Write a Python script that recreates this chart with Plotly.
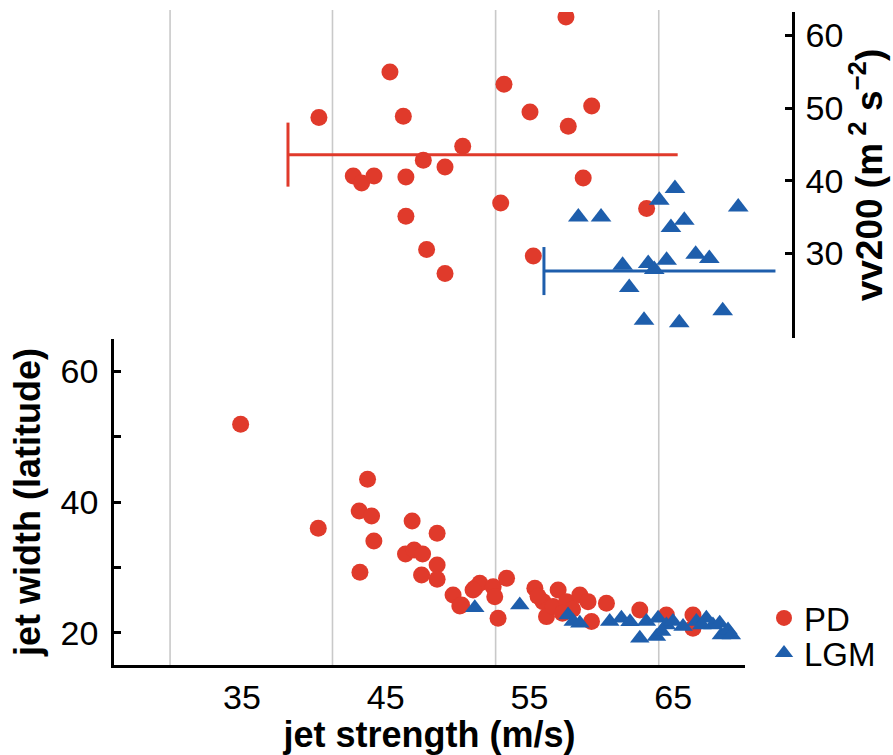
import plotly.graph_objects as go

# ---- data -------------------------------------------------------------
# upper panel: jet strength (m/s) vs vv200 (m^2 s^-2)
pd_top_strength = [57.53, 45.29, 40.35, 46.22, 53.22, 55.03, 59.32, 57.69, 50.35, 47.61, 49.12,
                   42.74, 43.32, 44.18, 46.40, 58.73, 52.99, 46.40, 63.14, 47.84, 55.26, 49.12]
pd_top_vv200 = [62.51, 54.96, 48.70, 48.87, 53.27, 49.46, 50.29, 47.50, 44.75, 42.83, 41.91,
                40.67, 39.71, 40.67, 40.54, 40.40, 36.96, 35.14, 36.19, 30.56, 29.68, 27.27]

lgm_top_strength = [65.11, 64.02, 69.51, 58.39, 59.97, 65.76, 64.83, 66.55, 67.50, 64.53, 63.25,
                    61.47, 63.67, 61.93, 68.43, 62.96, 65.41]
lgm_top_vv200 = [38.94, 37.34, 36.41, 35.04, 35.04, 34.59, 33.59, 29.92, 29.33, 29.09, 28.64,
                 28.41, 27.82, 25.34, 22.13, 20.85, 20.48]

# spread bars: mean vv200, strength interval and cap half-height
spread_labels = ["PD", "LGM"]
spread_mean_vv200 = [43.6, 27.6]
spread_strength_lo = [38.2, 56.0]
spread_strength_hi = [65.3, 72.1]
spread_cap_half = [4.4, 3.3]

# lower panel: jet strength (m/s) vs jet width (latitude)
pd_strength = [34.91, 40.31, 43.74, 43.16, 44.02, 44.18, 43.21, 46.84, 48.58, 46.38, 46.98,
               47.57, 48.58, 47.50, 48.58, 49.69, 50.16, 50.28, 51.20, 51.55, 51.08, 52.48,
               52.59, 53.41, 52.82, 55.38, 55.95, 56.19, 57.00, 56.65, 57.58, 58.51, 59.08,
               59.32, 60.36, 62.68, 64.53, 66.38, 66.38, 55.60, 58.00, 57.30]
pd_width = [51.86, 35.98, 43.47, 38.63, 37.86, 34.05, 29.27, 37.10, 35.22, 32.06, 32.67,
            32.06, 30.38, 28.85, 28.20, 25.80, 24.12, 24.27, 26.82, 27.59, 26.56, 27.07,
            25.54, 28.35, 22.24, 26.82, 24.78, 22.49, 26.56, 24.02, 24.78, 25.80, 24.78,
            21.73, 24.53, 23.51, 22.75, 22.75, 20.72, 25.60, 23.60, 23.00]

lgm_strength = [51.20, 54.33, 57.69, 58.05, 58.51, 60.59, 61.40, 62.68, 63.14, 63.95, 63.84,
                64.53, 64.99, 65.69, 66.62, 67.31, 67.77, 68.24, 68.36, 68.82, 69.05, 62.00,
                64.20, 67.00]
lgm_width = [23.86, 24.27, 22.75, 21.73, 21.48, 21.73, 22.24, 19.19, 21.73, 22.24, 19.44,
             21.22, 21.73, 20.97, 21.73, 22.24, 21.22, 21.48, 19.69, 20.46, 19.69, 21.70,
             20.20, 21.20]

strength_ticks = [35, 45, 55, 65]
width_ticks = [20, 30, 40, 50, 60]
width_ticktext = ["20", "", "40", "", "60"]
vv200_ticks = [30, 40, 50, 60]
grid_strength = [30, 41.3, 52.65, 64.0]

# ---- style ------------------------------------------------------------
W, H = 893, 755
RED = "#E03A2B"
BLUE = "#1E5EAC"
FONT = "Liberation Sans, Arial, Helvetica, sans-serif"
TICK_SIZE = 34
TITLE_SIZE = 36
LEGEND_SIZE = 33


def fx(p):
    return p / W


def fy(p):
    return 1 - p / H


fig = go.Figure()

# lower panel
fig.add_trace(go.Scatter(x=pd_strength, y=pd_width, mode="markers", name="PD", legend="legend",
                         marker=dict(symbol="circle", size=17, color=RED, line=dict(width=0)),
                         xaxis="x", yaxis="y"))
fig.add_trace(go.Scatter(x=lgm_strength, y=lgm_width, mode="markers", name="LGM", legend="legend2",
                         marker=dict(symbol="triangle-up", size=17, color=BLUE, line=dict(width=0)),
                         xaxis="x", yaxis="y"))

# upper panel
fig.add_trace(go.Scatter(x=pd_top_strength, y=pd_top_vv200, mode="markers", showlegend=False,
                         marker=dict(symbol="circle", size=17, color=RED, line=dict(width=0)),
                         xaxis="x2", yaxis="y2"))
fig.add_trace(go.Scatter(x=lgm_top_strength, y=lgm_top_vv200, mode="markers", showlegend=False,
                         marker=dict(symbol="triangle-up", size=18, color=BLUE, line=dict(width=0)),
                         xaxis="x2", yaxis="y2"))

for i, col in enumerate([RED, BLUE]):
    m, lo, hi, d = spread_mean_vv200[i], spread_strength_lo[i], spread_strength_hi[i], spread_cap_half[i]
    fig.add_trace(go.Scatter(x=[lo, hi, None, lo, lo], y=[m, m, None, m - d, m + d],
                             mode="lines", showlegend=False, hoverinfo="skip",
                             line=dict(color=col, width=3),
                             xaxis="x2", yaxis="y2", name=spread_labels[i]))

# vertical guide lines through both panels
for g in grid_strength:
    fig.add_shape(type="line", xref="x", yref="paper", x0=g, x1=g,
                  y0=fy(665), y1=fy(10), layer="below",
                  line=dict(color="#c9c9c9", width=1.6))

axis_common = dict(showgrid=False, zeroline=False, automargin=False,
                   linecolor="black", linewidth=2.5,
                   tickfont=dict(family=FONT, size=TICK_SIZE, color="black"))

legend_common = dict(xanchor="left", yanchor="top",
                     font=dict(family=FONT, size=LEGEND_SIZE, color="black"),
                     bgcolor="rgba(0,0,0,0)", itemsizing="trace", itemwidth=30)

fig.update_layout(
    width=W, height=H,
    template="none",
    paper_bgcolor="white", plot_bgcolor="rgba(0,0,0,0)",
    margin=dict(l=0, r=0, t=0, b=0),
    font=dict(family=FONT, color="black"),
    showlegend=True,
    legend=dict(x=fx(764), y=fy(590), **legend_common),
    legend2=dict(x=fx(764), y=fy(625), **legend_common),
    xaxis=dict(domain=[fx(114), fx(745)], range=[26.1, 70.0], anchor="y",
               showline=True, ticks="", tickvals=strength_ticks,
               ticklabelstandoff=0,
               title=dict(text="<b>jet strength (m/s)</b>", standoff=2,
                          font=dict(family=FONT, size=TITLE_SIZE, color="black")),
               **axis_common),
    yaxis=dict(domain=[fy(665), fy(339)], range=[15.1, 64.9], anchor="x",
               showline=True, ticks="inside", ticklen=7, tickwidth=2.5, tickcolor="black",
               tickvals=width_ticks, ticktext=width_ticktext,
               ticklabelstandoff=6,
               title=dict(text="<b>jet width (latitude)</b>", standoff=10,
                          font=dict(family=FONT, size=TITLE_SIZE, color="black")),
               **axis_common),
    xaxis2=dict(domain=[fx(114), fx(792)], range=[26.1, 73.25], anchor="y2",
                visible=False),
    yaxis2=dict(domain=[fy(338), fy(12)], range=[18.4, 63.2], anchor="x2", side="right",
                showline=True, ticks="inside", ticklen=7, tickwidth=2.5, tickcolor="black",
                tickvals=vv200_ticks, ticklabelstandoff=4,
                title=dict(text="<b>vv200 (m<sup> 2</sup> s<sup>\u22122</sup>)</b>", standoff=8,
                           font=dict(family=FONT, size=37, color="black")),
                **axis_common),
)

fig.write_html("out.html")
